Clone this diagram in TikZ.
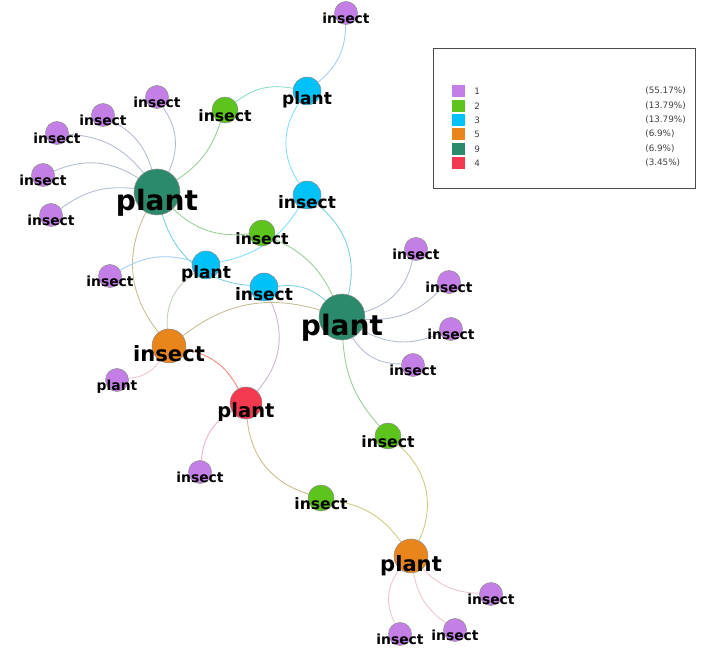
\documentclass[tikz,border=0pt]{standalone}
\usepackage{fontspec}
\setmainfont{DejaVu Sans}
\usetikzlibrary{backgrounds}
\definecolor{Lilac}{HTML}{C47FE6}
\definecolor{Leaf}{HTML}{5CC41C}
\definecolor{Sky}{HTML}{00C2F9}
\definecolor{Tangerine}{HTML}{E8861C}
\definecolor{Pine}{HTML}{2B8A6C}
\definecolor{Coral}{HTML}{F2394F}
\definecolor{Frame}{HTML}{4A4A4A}
\definecolor{Ink}{HTML}{404040}
% edge colours: the two ends mixed, then washed out
\colorlet{LilacSky}{Lilac!45!Sky!55!white}
\colorlet{LeafSky}{Leaf!45!Sky!55!white}
\colorlet{SkySky}{Sky!50!white}
\colorlet{LeafPine}{Leaf!50!Pine!55!white}
\colorlet{LilacPine}{Lilac!50!Pine!55!white}
\colorlet{SkyPine}{Sky!55!Pine!55!white}
\colorlet{PineTangerine}{Pine!45!Tangerine!55!white}
\colorlet{SkyTangerine}{Sky!45!Tangerine!50!white}
\colorlet{SkyCoral}{Sky!40!Coral!50!white}
\colorlet{TangerineLilac}{Tangerine!45!Lilac!45!white}
\colorlet{TangerineCoral}{Tangerine!35!Coral!70!white}
\colorlet{CoralLilac}{Coral!50!Lilac!50!white}
\colorlet{CoralLeaf}{Coral!45!Leaf!55!white}
\colorlet{LeafTangerine}{Leaf!45!Tangerine!55!white}
\tikzset{
  vtx/.style={circle,draw=black!45,line width=.3pt,inner sep=0pt},
  v1/.style={vtx,fill=Lilac,minimum size=.46cm},
  v2/.style={vtx,fill=Leaf,minimum size=.52cm},
  v3/.style={vtx,fill=Sky,minimum size=.56cm},
  v4/.style={vtx,fill=Coral,minimum size=.64cm},
  v5/.style={vtx,fill=Tangerine,minimum size=.68cm},
  v9/.style={vtx,fill=Pine,minimum size=.92cm},
  lbl/.style={anchor=base,inner sep=0pt,text=black,font=\bfseries\fontsize{#1}{#1}\selectfont},
  t1/.style={lbl=7.9pt},
  t2/.style={lbl=8.9pt},
  t3/.style={lbl=9.7pt},
  t4/.style={lbl=11.1pt},
  t5/.style={lbl=12pt},
  t9/.style={lbl=16pt},
  link/.style={draw=#1,line width=.5pt},
  swatch/.style={minimum width=.26cm,minimum height=.24cm,inner sep=0pt},
  keytext/.style={anchor=west,inner sep=0pt,text=Ink,font=\fontsize{5pt}{6pt}\selectfont}
}
\begin{document}
\begin{tikzpicture}[x=.02cm,y=.02cm]
  \useasboundingbox (0,0) rectangle (701,-648);
  % vertices
  \node[v9] (plantA) at (157,-192) {};
  \node[v9] (plantB) at (342,-317) {};
  \node[v3] (skyplantA) at (307,-91) {};
  \node[v3] (skyplantB) at (206,-265) {};
  \node[v3] (skyinsA) at (307,-195) {};
  \node[v3] (skyinsB) at (264,-287) {};
  \node[v2] (leafA) at (225,-110) {};
  \node[v2] (leafB) at (262,-233) {};
  \node[v2] (leafC) at (388,-436) {};
  \node[v2] (leafD) at (321,-498) {};
  \node[v5] (orangeins) at (169,-346) {};
  \node[v5] (orangeplant) at (411,-556) {};
  \node[v4] (redplant) at (246,-403) {};
  \node[v1] (top) at (346,-13) {};
  \node[v1] (westA) at (157,-97) {};
  \node[v1] (westB) at (103,-115) {};
  \node[v1] (westC) at (57,-133) {};
  \node[v1] (westD) at (43,-175) {};
  \node[v1] (westE) at (51,-215) {};
  \node[v1] (lone) at (110,-276) {};
  \node[v1] (smallplant) at (117,-380) {};
  \node[v1] (lower) at (200,-472) {};
  \node[v1] (eastA) at (416,-249) {};
  \node[v1] (eastB) at (449,-282) {};
  \node[v1] (eastC) at (451,-329) {};
  \node[v1] (eastD) at (413,-365) {};
  \node[v1] (southA) at (491,-594) {};
  \node[v1] (southB) at (455,-630) {};
  \node[v1] (southC) at (400,-634) {};
  % connectors
  \begin{scope}[on background layer]
    \draw[link=LilacSky] (top) to[bend left=25] (skyplantA);
    \draw[link=LeafSky] (leafA) to[bend left=24] (skyplantA);
    \draw[link=SkySky] (skyplantA) to[bend right=34] (skyinsA);
    \draw[link=LeafPine] (leafA) to[bend left=19] (plantA);
    \draw[link=LilacPine] (plantA) to[bend right=30] (westA);
    \draw[link=LilacPine] (plantA) to[bend right=22] (westB);
    \draw[link=LilacPine] (plantA) to[bend right=24] (westC);
    \draw[link=LilacPine] (plantA) to[bend right=28] (westD);
    \draw[link=LilacPine] (plantA) to[bend right=21] (westE);
    \draw[link=LeafPine] (plantA) to[bend right=25] (leafB);
    \draw[link=SkyPine] (plantA) to[bend right=35] (skyinsB);
    \draw[link=PineTangerine] (plantA) to[bend right=33] (orangeins);
    \draw[link=LeafPine] (leafB) to[bend left=20] (plantB);
    \draw[link=SkyPine] (skyinsA) to[bend left=32] (plantB);
    \draw[link=SkySky] (skyplantB) to[bend right=23] (skyinsA);
    \draw[link=LilacSky] (skyplantB) to[bend right=23] (lone);
    \draw[link=SkyTangerine] (skyplantB) to[bend right=30] (orangeins);
    \draw[link=SkyPine] (skyinsB) to[bend left=24] (plantB);
    \draw[link=SkyCoral] (skyinsB) to[bend left=34] (redplant);
    \draw[link=PineTangerine] (orangeins) to[bend left=27] (plantB);
    \draw[link=TangerineLilac] (orangeins) to[bend left=25] (smallplant);
    \draw[link=TangerineCoral] (orangeins) to[bend left=25] (redplant);
    \draw[link=CoralLilac] (redplant) to[bend right=27] (lower);
    \draw[link=CoralLeaf] (redplant) to[bend right=34] (leafD);
    \draw[link=LeafTangerine] (leafD) to[bend left=22] (orangeplant);
    \draw[link=LeafPine] (plantB) to[bend right=19] (leafC);
    \draw[link=LeafTangerine] (leafC) to[bend left=38] (orangeplant);
    \draw[link=LilacPine] (plantB) to[bend right=30] (eastA);
    \draw[link=LilacPine] (plantB) to[bend right=24] (eastB);
    \draw[link=LilacPine] (plantB) to[bend right=27] (eastC);
    \draw[link=LilacPine] (plantB) to[bend right=29] (eastD);
    \draw[link=TangerineLilac] (orangeplant) to[bend right=22] (southA);
    \draw[link=TangerineLilac] (orangeplant) to[bend right=22] (southB);
    \draw[link=TangerineLilac] (orangeplant) to[bend right=33] (southC);
  \end{scope}
  % labels
  \node[t9] (plantA-t) at (157,-211) {plant};
  \node[t9] (plantB-t) at (342,-336) {plant};
  \node[t3] (skyplantA-t) at (307,-105) {plant};
  \node[t3] (skyplantB-t) at (206,-279) {plant};
  \node[t3] (skyinsA-t) at (307,-209) {insect};
  \node[t3] (skyinsB-t) at (264,-301) {insect};
  \node[t2] (leafA-t) at (225,-122) {insect};
  \node[t2] (leafB-t) at (262,-245) {insect};
  \node[t2] (leafC-t) at (388,-448) {insect};
  \node[t2] (leafD-t) at (321,-510) {insect};
  \node[t5] (orangeins-t) at (169,-362) {insect};
  \node[t5] (orangeplant-t) at (411,-572) {plant};
  \node[t4] (redplant-t) at (246,-418) {plant};
  \node[t1] (top-t) at (346,-24) {insect};
  \node[t1] (westA-t) at (157,-108) {insect};
  \node[t1] (westB-t) at (103,-126) {insect};
  \node[t1] (westC-t) at (57,-144) {insect};
  \node[t1] (westD-t) at (43,-186) {insect};
  \node[t1] (westE-t) at (51,-226) {insect};
  \node[t1] (lone-t) at (110,-287) {insect};
  \node[t1] (smallplant-t) at (117,-391) {plant};
  \node[t1] (lower-t) at (200,-483) {insect};
  \node[t1] (eastA-t) at (416,-260) {insect};
  \node[t1] (eastB-t) at (449,-293) {insect};
  \node[t1] (eastC-t) at (451,-340) {insect};
  \node[t1] (eastD-t) at (413,-376) {insect};
  \node[t1] (southA-t) at (491,-605) {insect};
  \node[t1] (southB-t) at (455,-641) {insect};
  \node[t1] (southC-t) at (400,-645) {insect};
  % key
  \draw[Frame,line width=.5pt] (433,-48) rectangle (695,-188);
  \node[swatch,fill=Lilac] (key1) at (458,-91) {};
  \node[swatch,fill=Leaf] (key2) at (458,-106) {};
  \node[swatch,fill=Sky] (key3) at (458,-120) {};
  \node[swatch,fill=Tangerine] (key5) at (458,-134) {};
  \node[swatch,fill=Pine] (key9) at (458,-149) {};
  \node[swatch,fill=Coral] (key4) at (458,-163) {};
  \node[keytext] (key1-n) at (474,-91) {1};
  \node[keytext] (key2-n) at (474,-106) {2};
  \node[keytext] (key3-n) at (474,-120) {3};
  \node[keytext] (key5-n) at (474,-134) {5};
  \node[keytext] (key9-n) at (474,-149) {9};
  \node[keytext] (key4-n) at (474,-163) {4};
  \node[keytext] (key1-p) at (645,-91) {(55.17\%)};
  \node[keytext] (key2-p) at (645,-106) {(13.79\%)};
  \node[keytext] (key3-p) at (645,-120) {(13.79\%)};
  \node[keytext] (key5-p) at (645,-134) {(6.9\%)};
  \node[keytext] (key9-p) at (645,-149) {(6.9\%)};
  \node[keytext] (key4-p) at (645,-163) {(3.45\%)};
\end{tikzpicture}
\end{document}
